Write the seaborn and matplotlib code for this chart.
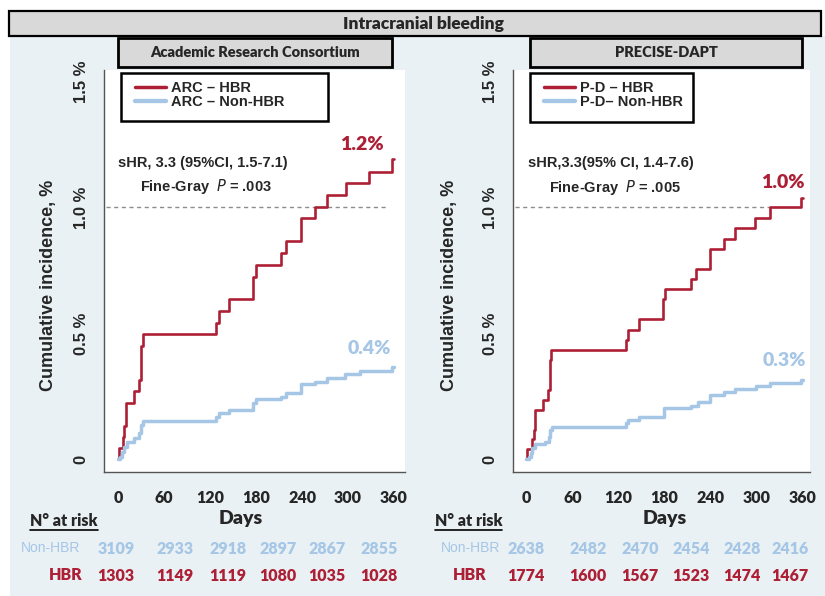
import matplotlib
matplotlib.use("Agg")
import matplotlib.pyplot as plt
import numpy as np
import pandas as pd
import seaborn as sns

from matplotlib import patches
from matplotlib.lines import Line2D

# ---- data ----
days_ticks = [0, 60, 120, 180, 240, 300, 360]

arc_hbr_days = [0, 1, 5.7, 7.4, 10, 21, 27.4, 29, 31.7, 127, 131, 145, 176, 180,
                213, 219.6, 238, 257, 272, 298, 328, 358, 360]
arc_hbr_inc = [0, 0.044, 0.087, 0.132, 0.225, 0.27, 0.315, 0.45, 0.497, 0.542,
               0.589, 0.635, 0.725, 0.772, 0.82, 0.865, 0.958, 1.003, 1.049,
               1.095, 1.141, 1.19, 1.19]
arc_non_days = [0, 2, 5, 8, 11, 21, 27, 29, 31.7, 127, 131, 145, 176, 180, 213,
                219.6, 238, 256.5, 272, 296.5, 316, 358, 360]
arc_non_inc = [0, 0.01, 0.03, 0.05, 0.07, 0.086, 0.103, 0.136, 0.153, 0.169,
               0.183, 0.196, 0.222, 0.238, 0.249, 0.265, 0.298, 0.308, 0.321,
               0.339, 0.352, 0.365, 0.365]

pd_hbr_days = [0, 1, 7.4, 9.6, 10.8, 21.3, 28.3, 30.4, 32.6, 130, 132, 146.5,
               177.8, 180.9, 214.8, 221.4, 239.7, 257.5, 272.3, 298.4, 318, 358, 360]
pd_hbr_inc = [0, 0.04, 0.079, 0.116, 0.196, 0.235, 0.275, 0.394, 0.434, 0.474,
              0.513, 0.556, 0.635, 0.675, 0.714, 0.755, 0.835, 0.874, 0.917,
              0.959, 1.0, 1.037, 1.037]
pd_non_days = [0, 3, 5.5, 8, 10.8, 24.8, 29, 31, 33, 130, 133, 146.5, 180, 214.8,
               223.5, 239.7, 257.5, 272.3, 299.7, 317, 358, 360]
pd_non_inc = [0, 0.01, 0.024, 0.044, 0.061, 0.07, 0.087, 0.116, 0.13, 0.143,
              0.156, 0.169, 0.202, 0.212, 0.229, 0.255, 0.269, 0.279, 0.291,
              0.304, 0.315, 0.315]

arc_risk_non = [3109, 2933, 2918, 2897, 2867, 2855]
arc_risk_hbr = [1303, 1149, 1119, 1080, 1035, 1028]
pd_risk_non = [2638, 2482, 2470, 2454, 2428, 2416]
pd_risk_hbr = [1774, 1600, 1567, 1523, 1474, 1467]

RED = "#ad1f35"
BLUE = "#a6c6e6"
BG = "#e9f1f4"
BOXFILL = "#d9d9d9"
AX_COL = "#555555"
HEAVY = "heavy"

sns.set_style("white")
plt.rcParams["font.family"] = ["Liberation Sans", "DejaVu Sans"]

W, H = 825, 596
fig = plt.figure(figsize=(8.25, 5.96), dpi=100)
fig.patch.set_facecolor("white")


def fx(px):
    return px / W


def fy(py):
    return 1 - py / H


def fig_rect(x0, y0, x1, y1, **kw):
    r = patches.Rectangle((fx(x0), fy(y1)), fx(x1) - fx(x0), fy(y0) - fy(y1),
                          transform=fig.transFigure, **kw)
    fig.add_artist(r)


# background + header boxes
fig_rect(10, 36, 825, 596, facecolor=BG, edgecolor="none", zorder=-10)
fig_rect(9, 11, 821, 36, facecolor=BOXFILL, edgecolor="black", lw=1.6, zorder=1)
fig.text(fx(423), fy(23.5), "Intracranial bleeding", ha="center", va="center",
         family="Lato", weight=HEAVY, fontsize=12.5)

panels = [
    dict(px=(104, 405), xlim=(-18.7, 374.4), title="Academic Research Consortium",
         tbox=(118, 392),
         series=[(arc_hbr_days, arc_hbr_inc, "ARC \u2013 HBR", RED, 1.9),
                 (arc_non_days, arc_non_inc, "ARC \u2013 Non-HBR", BLUE, 2.5)],
         leg=(121, 73, 328, 121), shr="sHR, 3.3 (95%CI, 1.5-7.1)", p=".003",
         shr_xy=(118, 163), fg_xy=(140, 186),
         end_red=("1.2%", 362, 145), end_blue=("0.4%", 369, 348),
         risk_non=arc_risk_non, risk_hbr=arc_risk_hbr,
         risk_x=[116, 175, 228, 278, 327, 379], lab_x=(80, 82), nar_x=30,
         ylab_x=-0.156, days_x=0.455),
    dict(px=(513, 810), xlim=(-17.3, 369.5), title="PRECISE-DAPT",
         tbox=(530, 802),
         series=[(pd_hbr_days, pd_hbr_inc, "P-D \u2013 HBR", RED, 1.9),
                 (pd_non_days, pd_non_inc, "P-D\u2013 Non-HBR", BLUE, 2.5)],
         leg=(530, 73, 693, 122), shr="sHR,3.3(95% CI, 1.4-7.6)", p=".005",
         shr_xy=(528, 163), fg_xy=(549, 187),
         end_red=("1.0%", 783, 183), end_blue=("0.3%", 784, 361),
         risk_non=pd_risk_non, risk_hbr=pd_risk_hbr,
         risk_x=[526, 588, 640, 691, 742, 790], lab_x=(500, 487), nar_x=435,
         ylab_x=-0.184, days_x=0.512),
]

top_px, bot_px = 70, 472
for p in panels:
    x0, x1 = p["px"]
    ax = fig.add_axes([fx(x0), fy(bot_px), fx(x1) - fx(x0), fy(top_px) - fy(bot_px)])
    ax.set_facecolor("white")

    for d, v, lab, col, lw in p["series"]:
        df = pd.DataFrame({"days": d, "inc": v})
        sns.lineplot(data=df, x="days", y="inc", drawstyle="steps-post",
                     estimator=None, color=col, lw=lw, label=lab, ax=ax)

    ax.hlines(1.0, p["xlim"][0] + 2, 350, colors="#8c8c8c", linestyles=(0, (3, 2.5)),
              lw=1.0, zorder=0)

    ax.set_xlim(*p["xlim"])
    ax.set_ylim(-0.05, 1.545)
    ax.set_xticks(days_ticks)
    ax.set_xticklabels([str(t) for t in days_ticks], family="Lato",
                       weight=HEAVY, fontsize=11.5)
    ax.set_yticks([0, 0.5, 1.0, 1.5])
    ax.set_yticklabels(["0", "0.5 %", "1.0 %", "1.5 %"], rotation=90,
                       va="center", weight="bold", fontsize=12)
    for s in ["top", "right"]:
        ax.spines[s].set_visible(False)
    for s in ["left", "bottom"]:
        ax.spines[s].set_color(AX_COL)
        ax.spines[s].set_linewidth(1)
    ax.tick_params(axis="both", direction="out", length=6, width=1, color=AX_COL)
    ax.tick_params(axis="y", pad=5)
    ax.tick_params(axis="x", pad=7)

    ax.set_ylabel("Cumulative incidence, %", weight="bold", fontsize=13)
    ax.yaxis.set_label_coords(p["ylab_x"], 0.465)
    ax.set_xlabel("Days", family="Lato", weight=HEAVY, fontsize=14)
    ax.xaxis.set_label_coords(p["days_x"], -0.095)

    # legend with its own box
    lx0, ly0, lx1, ly1 = p["leg"]
    fig_rect(lx0, ly0, lx1, ly1, facecolor="white", edgecolor="black", lw=1.8, zorder=5)
    handles, labels = ax.get_legend_handles_labels()
    handles = [Line2D([], [], color=h.get_color(), lw=h.get_linewidth() + 0.6) for h in handles]
    leg = fig.legend(handles, labels, loc="upper left",
                     bbox_to_anchor=(fx(lx0 + 14), fy(ly0 + 8)),
                     frameon=False, handlelength=2.1,
                     handletextpad=0.35, labelspacing=0.0, borderpad=0,
                     borderaxespad=0, prop=dict(weight="bold", size=10.5))
    leg.set_zorder(6)
    ax.get_legend().remove()

    # panel title box
    tx0, tx1 = p["tbox"]
    fig_rect(tx0, 38, tx1, 67, facecolor=BOXFILL, edgecolor="black", lw=2, zorder=4)
    fig.text(fx((tx0 + tx1) / 2), fy(52.5), p["title"], ha="center", va="center",
             family="Lato", weight=HEAVY, fontsize=10.5, zorder=5)

    # annotations
    fig.text(fx(p["shr_xy"][0]), fy(p["shr_xy"][1]), p["shr"], ha="left",
             va="center", weight="bold", fontsize=10.5)
    fig.text(fx(p["fg_xy"][0]), fy(p["fg_xy"][1]),
             "Fine-Gray  $\\bf{\\it{P}}$ = " + p["p"], ha="left", va="center",
             weight="bold", fontsize=10.5)
    t, x, y = p["end_red"]
    fig.text(fx(x), fy(y), t, ha="center", va="center", color=RED,
             family="Lato", weight=HEAVY, fontsize=14)
    t, x, y = p["end_blue"]
    fig.text(fx(x), fy(y), t, ha="center", va="center", color=BLUE,
             family="Lato", weight=HEAVY, fontsize=14)

    # number at risk table
    nar = fig.text(fx(p["nar_x"]), fy(521), "N\u00b0 at risk", ha="left",
                   va="center", family="Lato", weight=HEAVY, fontsize=11.5)
    fig.canvas.draw()
    bb = nar.get_window_extent().transformed(fig.transFigure.inverted())
    fig.add_artist(Line2D([bb.x0, bb.x1], [fy(530), fy(530)], color="black",
                          lw=1.2, transform=fig.transFigure))
    fig.text(fx(p["lab_x"][0]), fy(548), "Non-HBR", ha="right", va="center",
             family="Liberation Sans", color=BLUE, fontsize=10)
    fig.text(fx(p["lab_x"][1]), fy(575), "HBR", ha="right", va="center",
             family="Lato", weight=HEAVY, color=RED, fontsize=11.5)
    for xx, nn, nh in zip(p["risk_x"], p["risk_non"], p["risk_hbr"]):
        fig.text(fx(xx), fy(549), str(nn), ha="center", va="center",
                 family="Lato", weight=HEAVY, color=BLUE, fontsize=11.5)
        fig.text(fx(xx), fy(576), str(nh), ha="center", va="center",
                 family="Lato", weight=HEAVY, color=RED, fontsize=11.5)

fig.savefig("out.png", dpi=100)
